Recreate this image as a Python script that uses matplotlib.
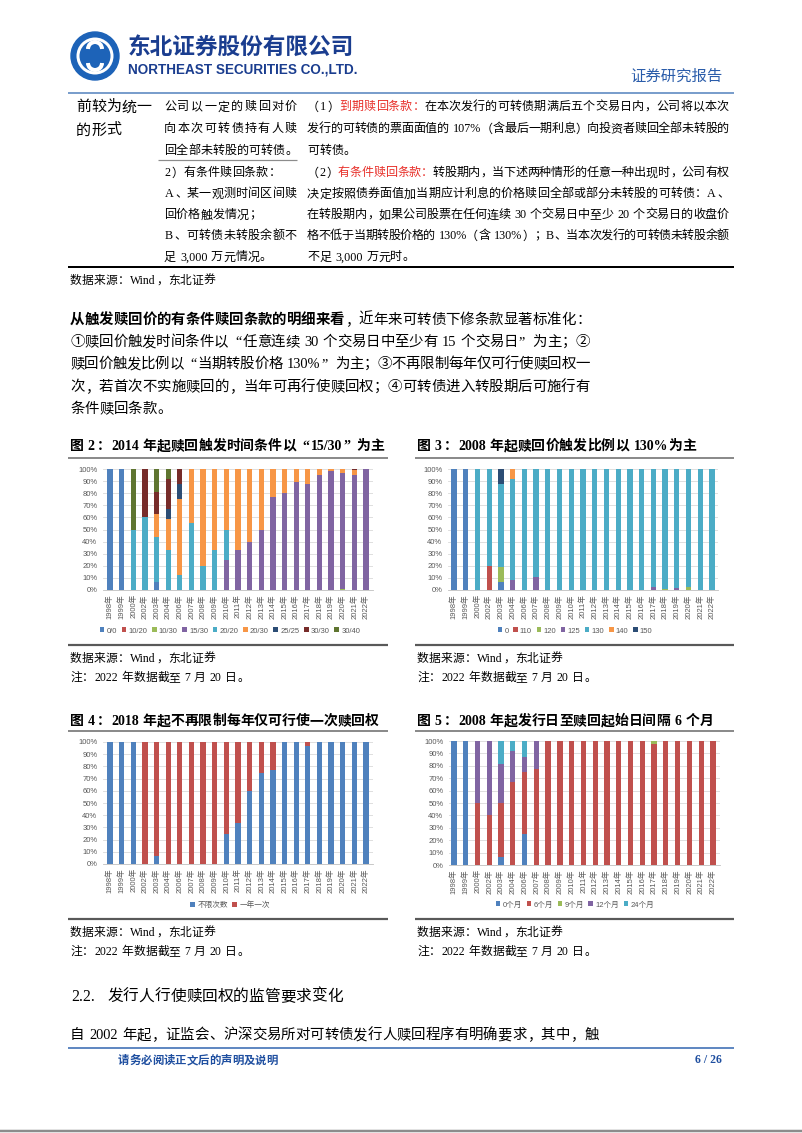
import matplotlib
matplotlib.use('Agg')
import matplotlib.pyplot as plt
from matplotlib.patches import Circle, Arc
import numpy as np

plt.rcParams['font.family'] = ['Liberation Sans', 'Noto Sans CJK SC']

# ---------------- data ----------------
years = ['1998年', '1999年', '2000年', '2002年', '2003年', '2004年', '2006年', '2007年',
         '2008年', '2009年', '2010年', '2011年', '2012年', '2013年', '2014年', '2015年',
         '2016年', '2017年', '2018年', '2019年', '2020年', '2021年', '2022年']

# Fig 2: trigger time condition (share %)
time_names = ['0/0', '10/20', '10/30', '15/30', '20/20', '20/30', '25/25', '30/30', '30/40']
t_0_0 = [100, 100, 0, 0, 6.25, 0, 0, 0, 0, 0, 0, 0, 0, 0, 0, 0, 0, 0, 0, 0, 0, 0, 0]
t_10_20 = [0, 0, 0, 0, 0, 0, 0, 0, 0, 0, 0, 0, 0, 0, 0, 0, 0, 0, 0, 0, 0, 0, 0]
t_10_30 = [0, 0, 0, 0, 0, 0, 0, 0, 0, 0, 0, 0, 0, 0, 0, 0, 0, 0, 0, 0, 1, 0, 0]
t_15_30 = [0, 0, 0, 0, 0, 0, 0, 0, 0, 0, 25, 33.3, 40, 50, 77, 80, 89, 88, 95, 98, 96, 95, 100]
t_20_20 = [0, 0, 50, 60, 37.5, 33.3, 12.5, 55.6, 20, 33.3, 25, 0, 0, 0, 0, 0, 0, 0, 0, 0, 0, 0, 0]
t_20_30 = [0, 0, 0, 0, 18.75, 25, 62.5, 44.4, 80, 66.7, 50, 66.7, 60, 50, 23, 20, 11, 12, 5, 2, 3, 4, 0]
t_25_25 = [0, 0, 0, 0, 0, 8.3, 12.5, 0, 0, 0, 0, 0, 0, 0, 0, 0, 0, 0, 0, 0, 0, 0, 0]
t_30_30 = [0, 0, 0, 40, 18.75, 25, 12.5, 0, 0, 0, 0, 0, 0, 0, 0, 0, 0, 0, 0, 0, 0, 1, 0]
t_30_40 = [0, 0, 50, 0, 18.75, 8.3, 0, 0, 0, 0, 0, 0, 0, 0, 0, 0, 0, 0, 0, 0, 0, 0, 0]

# Fig 3: trigger ratio (share %)
ratio_names = ['0', '110', '120', '125', '130', '140', '150']
r_0 = [100, 100, 0, 0, 6.25, 0, 0, 0, 0, 0, 0, 0, 0, 0, 0, 0, 0, 0, 0, 0, 0, 0, 0]
r_110 = [0, 0, 0, 20, 0, 0, 0, 0, 0, 0, 0, 0, 0, 0, 0, 0, 0, 0, 0, 0, 0, 0, 0]
r_120 = [0, 0, 0, 0, 12.5, 0, 0, 0, 0, 0, 0, 0, 0, 0, 0, 0, 0, 0, 1, 0, 2.5, 0, 0]
r_125 = [0, 0, 0, 0, 0, 8.3, 0, 11.1, 0, 0, 0, 0, 0, 0, 0, 0, 0, 2.5, 0, 1.5, 0, 0, 0]
r_130 = [0, 0, 100, 80, 68.75, 83.4, 100, 88.9, 100, 100, 100, 100, 100, 100, 100, 100, 100, 97.5, 99, 98.5, 97.5, 100, 100]
r_140 = [0, 0, 0, 0, 0, 8.3, 0, 0, 0, 0, 0, 0, 0, 0, 0, 0, 0, 0, 0, 0, 0, 0, 0]
r_150 = [0, 0, 0, 0, 12.5, 0, 0, 0, 0, 0, 0, 0, 0, 0, 0, 0, 0, 0, 0, 0, 0, 0, 0]

# Fig 4: call limit per year (share %)
limit_names = ['不限次数', '一年一次']
unlimited = [100, 100, 100, 0, 6.25, 0, 0, 0, 0, 0, 25, 33.3, 60, 75, 77, 100, 100, 97, 100, 100, 100, 100, 100]
once_a_year = [0, 0, 0, 100, 93.75, 100, 100, 100, 100, 100, 75, 66.7, 40, 25, 23, 0, 0, 3, 0, 0, 0, 0, 0]

# Fig 5: interval from issue to call start (share %)
month_names = ['0个月', '6个月', '9个月', '12个月', '24个月']
m_0 = [100, 100, 0, 0, 6.25, 0, 25, 0, 0, 0, 0, 0, 0, 0, 0, 0, 0, 0, 0, 0, 0, 0, 0]
m_6 = [0, 0, 50, 40, 43.75, 66.7, 50, 77.8, 100, 100, 100, 100, 100, 100, 100, 100, 100, 97.5, 100, 100, 100, 100, 100]
m_9 = [0, 0, 0, 0, 0, 0, 0, 0, 0, 0, 0, 0, 0, 0, 0, 0, 0, 2.5, 0, 0, 0, 0, 0]
m_12 = [0, 0, 50, 60, 31.25, 25, 12.5, 22.2, 0, 0, 0, 0, 0, 0, 0, 0, 0, 0, 0, 0, 0, 0, 0]
m_24 = [0, 0, 0, 0, 18.75, 8.3, 12.5, 0, 0, 0, 0, 0, 0, 0, 0, 0, 0, 0, 0, 0, 0, 0, 0]

BLUE, RED, GREEN, PURPLE, TEAL, ORANGE = '#4F81BD', '#C0504D', '#9BBB59', '#8064A2', '#4BACC6', '#F79646'
DKBLUE, DKRED, OLIVE = '#2C4D75', '#772C2A', '#5F7530'

# ---------------- page ----------------
W, H = 802, 1133
fig = plt.figure(figsize=(W / 100, H / 100), dpi=100)
bg = fig.add_axes([0, 0, 1, 1])
bg.set_xlim(0, W)
bg.set_ylim(H, 0)
bg.axis('off')
renderer = fig.canvas.get_renderer()

SERIF = ['Liberation Serif', 'Noto Sans CJK SC']
CJK = ['Noto Sans CJK SC', 'DejaVu Sans']
PT = 0.72  # points per pixel


def hline(y, x0, x1, color, lw_px):
    bg.plot([x0, x1], [y, y], color=color, lw=lw_px * PT, solid_capstyle='butt')


def tokenize(parts):
    out = []
    for s, c, w in parts:
        buf = ''
        for ch in s:
            if ch == ' ':
                if buf:
                    out.append((buf, c, w)); buf = ''
                out.append((' ', c, w))
            elif ord(ch) < 128:
                buf += ch
            else:
                if buf:
                    out.append((buf, c, w)); buf = ''
                out.append((ch, c, w))
        if buf:
            out.append((buf, c, w))
    return out


LEFTP = set('，。、；：）”')
RIGHTP = set('（“')


def draw_line(x0, yc, parts, size, family=SERIF, x1=None):
    if isinstance(parts, str):
        parts = [(parts, 'black', 'normal')]
    px = size * 100 / 72
    base = yc + 0.36 * px
    items = []
    for s, c, w in tokenize(parts):
        if s == ' ':
            items.append((None, 0.25 * px, None))
        elif len(s) == 1 and ord(s) >= 128:
            ha = 'left' if s in LEFTP else ('right' if s in RIGHTP else 'center')
            t = bg.text(0, base, s, fontsize=size, color=c, fontweight=w, family=family,
                        va='baseline', ha=ha)
            items.append((t, px, ha))
        else:
            t = bg.text(0, base, s, fontsize=size, color=c, fontweight=w, family=family,
                        va='baseline', ha='left')
            wd = t.get_window_extent(renderer).width
            items.append((t, wd + 0.12 * px, 'left'))
    total = sum(w for _, w, _ in items)
    n = len(items)
    gap = (x1 - x0 - total) / (n - 1) if (x1 is not None and n > 1) else 0
    x = x0
    for t, w, ha in items:
        if t is not None:
            if ha == 'center':
                t.set_x(x + w / 2)
            elif ha == 'right':
                t.set_x(x + w - 0.05 * w)
            else:
                t.set_x(x + (0.04 * w if ha == 'left' else 0))
        x += w + gap


def fit_text(x0, x1, yc, s, size0, **kw):
    t = bg.text(x0, yc, s, fontsize=size0, va='center', ha='left', **kw)
    wd = t.get_window_extent(renderer).width
    t.set_fontsize(size0 * (x1 - x0) / wd)
    return t


# header
bg.add_patch(Circle((95, 56), 24, color='#1d63b8', zorder=2))
bg.add_patch(Circle((95, 56), 17, fill=False, ec='white', lw=3 * PT, zorder=3))
bg.add_patch(Arc((95, 49), 14, 14, theta1=180, theta2=360, color='white', lw=4 * PT, zorder=4))
bg.add_patch(Arc((95, 63), 14, 14, theta1=0, theta2=180, color='white', lw=4 * PT, zorder=4))
fit_text(128, 355, 47, '东北证券股份有限公司', 16, color='#1a3d8f', fontweight='bold', family=CJK)
fit_text(128, 358, 69, 'NORTHEAST SECURITIES CO.,LTD.', 8, color='#1a3d8f', fontweight='bold',
         family=['Liberation Sans'])
fit_text(630, 722, 76, '证券研究报告', 11, color='#2a5caa', family=CJK)
hline(93, 68, 734, '#5a86c0', 1.6)

# table
draw_line(76, 106, '前较为统一', 10.8)
draw_line(76, 129, '的形式', 10.8)
C2 = 8.7
draw_line(164, 106, '公司以一定的赎回对价', C2, x1=297)
draw_line(164, 128, '向本次可转债持有人赎', C2, x1=297)
draw_line(164, 150, '回全部未转股的可转债。', C2, x1=297)
hline(160, 158, 297, '#8c8c8c', 1.2)
draw_line(164, 172, '2）有条件赎回条款：', C2)
draw_line(164, 193, 'A、某一观测时间区间赎', C2, x1=297)
draw_line(164, 214, '回价格触发情况；', C2)
draw_line(164, 235, 'B、可转债未转股余额不', C2, x1=297)
draw_line(164, 256, '足 3,000 万元情况。', C2)
RED_T = '#e8302a'
draw_line(307, 106, [('（1）', 'black', 'normal'), ('到期赎回条款：', RED_T, 'normal'),
                     ('在本次发行的可转债期满后五个交易日内，公司将以本次', 'black', 'normal')], C2, x1=729)
draw_line(307, 128, '发行的可转债的票面面值的 107%（含最后一期利息）向投资者赎回全部未转股的', C2, x1=729)
draw_line(307, 150, '可转债。', C2)
draw_line(307, 172, [('（2）', 'black', 'normal'), ('有条件赎回条款：', RED_T, 'normal'),
                     ('转股期内，当下述两种情形的任意一种出现时，公司有权', 'black', 'normal')], C2, x1=729)
draw_line(307, 193, '决定按照债券面值加当期应计利息的价格赎回全部或部分未转股的可转债：A、', C2, x1=729)
draw_line(307, 214, '在转股期内，如果公司股票在任何连续 30 个交易日中至少 20 个交易日的收盘价', C2, x1=729)
draw_line(307, 235, '格不低于当期转股价格的 130%（含 130%）；B、当本次发行的可转债未转股余额', C2, x1=729)
draw_line(307, 256, '不足 3,000 万元时。', C2)
hline(267, 68, 734, 'black', 2)
draw_line(70, 280, '数据来源：Wind，东北证券', 8.5)

# paragraph
BODY = 10.4
draw_line(70, 319, [('从触发赎回价的有条件赎回条款的明细来看', 'black', 'bold'),
                    ('，近年来可转债下修条款显著标准化：', 'black', 'normal')], BODY, x1=590)
draw_line(70, 341, '①赎回价触发时间条件以“任意连续 30 个交易日中至少有 15 个交易日”为主；②', BODY, x1=590)
draw_line(70, 363, '赎回价触发比例以“当期转股价格 130%”为主；③不再限制每年仅可行使赎回权一', BODY, x1=590)
draw_line(70, 386, '次，若首次不实施赎回的，当年可再行使赎回权；④可转债进入转股期后可施行有', BODY, x1=590)
draw_line(70, 408, '条件赎回条款。', BODY)

# chart titles, rules, sources
TS = 10
B = 'bold'
draw_line(70, 445, [('图 2：2014 年起赎回触发时间条件以“15/30”为主', 'black', B)], TS)
draw_line(417, 445, [('图 3：2008 年起赎回价触发比例以 130%为主', 'black', B)], TS)
draw_line(70, 720, [('图 4：2018 年起不再限制每年仅可行使一次赎回权', 'black', B)], TS)
draw_line(417, 720, [('图 5：2008 年起发行日至赎回起始日间隔 6 个月', 'black', B)], TS)
for y in (458, 731):
    hline(y, 68, 388, '#7f7f7f', 1.8)
    hline(y, 415, 734, '#7f7f7f', 1.8)
for y in (645, 919):
    hline(y, 68, 388, '#595959', 2.2)
    hline(y, 415, 734, '#595959', 2.2)
for x0 in (70, 417):
    draw_line(x0, 658, '数据来源：Wind，东北证券', 8.5)
    draw_line(x0, 677, '注：2022 年数据截至 7 月 20 日。', 8.5)
    draw_line(x0, 932, '数据来源：Wind，东北证券', 8.5)
    draw_line(x0, 951, '注：2022 年数据截至 7 月 20 日。', 8.5)

# section heading and final line
draw_line(70, 995, '2.2.   发行人行使赎回权的监管要求变化', 11.3)
draw_line(70, 1034, '自 2002 年起，证监会、沪深交易所对可转债发行人赎回程序有明确要求，其中，触', BODY)

# footer
hline(1048, 68, 734, '#3b6db3', 1.6)
draw_line(118, 1060, [('请务必阅读正文后的声明及说明', '#1f4fa0', 'bold')], 8.2)
bg.text(722, 1060, '6 / 26', fontsize=8.5, color='#1f4fa0', fontweight='bold', family=SERIF,
        ha='right', va='center')
hline(1131, 0, W, '#8c8c8c', 2.5)


# ---------------- charts ----------------
def chart(rect, series, names, colors, xlim, leg_center):
    l, r, t, b = rect
    ax = fig.add_axes([l / W, 1 - b / H, (r - l) / W, (b - t) / H])
    x = np.arange(len(years))
    bottom = np.zeros(len(years))
    for vals, name, col in zip(series, names, colors):
        v = np.array(vals, float)
        ax.bar(x, v, 0.45, bottom=bottom, color=col, label=name, zorder=3)
        bottom += v
    ax.set_xlim(*xlim)
    ax.set_ylim(0, 100)
    ax.set_yticks(np.arange(0, 101, 10))
    ax.set_yticklabels([f'{v}%' for v in range(0, 101, 10)])
    ax.set_xticks(x)
    ax.set_xticklabels(years, rotation=90)
    ax.grid(axis='y', color='#d9d9d9', lw=0.6, zorder=0)
    for s in ['top', 'right', 'left']:
        ax.spines[s].set_visible(False)
    ax.spines['bottom'].set_color('#bfbfbf')
    ax.spines['bottom'].set_linewidth(0.6)
    ax.tick_params(length=0, labelsize=5.5, labelcolor='#595959')
    ax.tick_params(axis='y', pad=4)
    ax.tick_params(axis='x', pad=3)
    lx = (leg_center[0] - l) / (r - l)
    ly = (b - leg_center[1]) / (b - t)
    leg = ax.legend(loc='center', bbox_to_anchor=(lx, ly), ncol=len(names), frameon=False,
                    fontsize=5.5, handlelength=0.6, handleheight=0.6, handletextpad=0.3,
                    columnspacing=0.6, borderaxespad=0)
    for txt in leg.get_texts():
        txt.set_color('#595959')
    return ax


chart((103, 373, 469, 590),
      [t_0_0, t_10_20, t_10_30, t_15_30, t_20_20, t_20_30, t_25_25, t_30_30, t_30_40],
      time_names, [BLUE, RED, GREEN, PURPLE, TEAL, ORANGE, DKBLUE, DKRED, OLIVE],
      (-0.6, 22.6), (230, 631))
chart((448, 718, 469, 590),
      [r_0, r_110, r_120, r_125, r_130, r_140, r_150],
      ratio_names, [BLUE, RED, GREEN, PURPLE, TEAL, ORANGE, DKBLUE],
      (-0.51, 22.51), (575, 631))
chart((103, 373, 742, 864),
      [unlimited, once_a_year], limit_names, [BLUE, RED],
      (-0.6, 22.6), (230, 905))
chart((449, 720, 741, 865),
      [m_0, m_6, m_9, m_12, m_24], month_names, [BLUE, RED, GREEN, PURPLE, TEAL],
      (-0.42, 22.6), (575, 905))

fig.savefig('out.png', dpi=100)
